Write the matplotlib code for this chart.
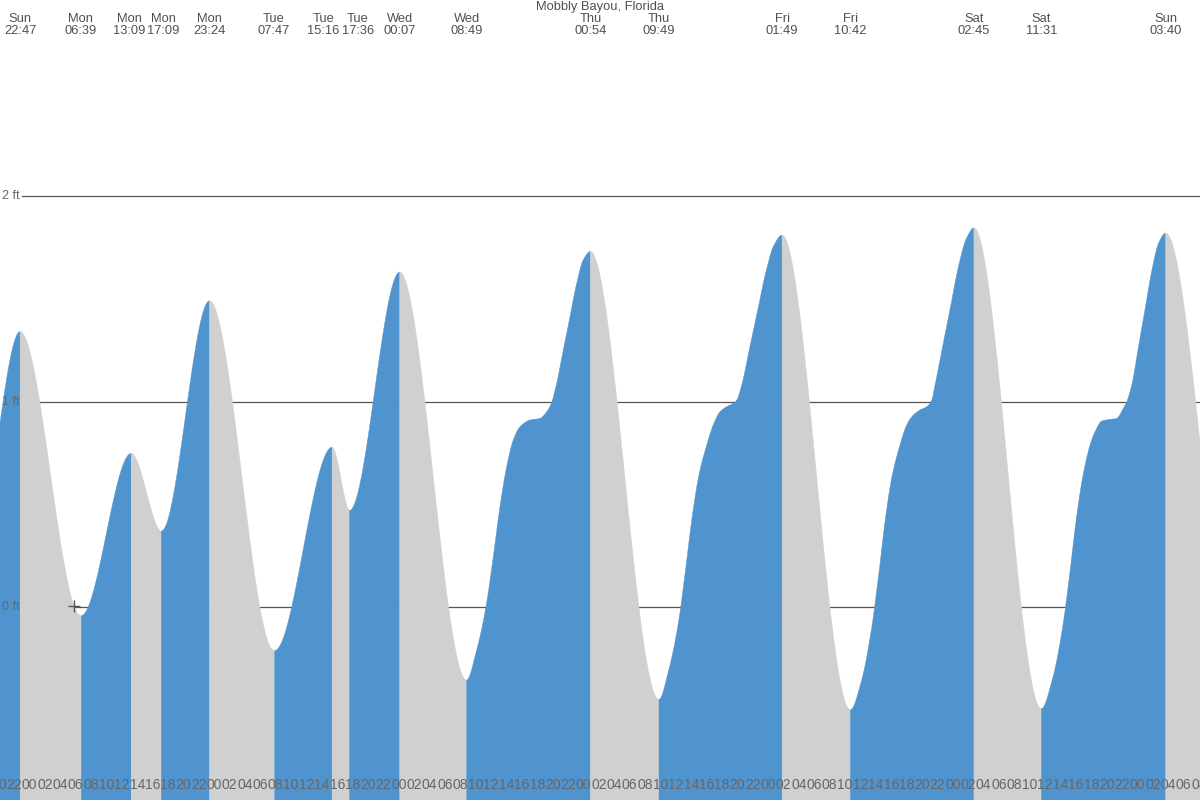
import numpy as np
import matplotlib
matplotlib.use("Agg")
import matplotlib.pyplot as plt

# ---------------- data ----------------
station = "Mobbly Bayou, Florida"

# high / low tide events (labels along the top)
ext_days = ["Sun", "Mon", "Mon", "Mon", "Mon", "Tue", "Tue", "Tue", "Wed", "Wed",
            "Thu", "Thu", "Fri", "Fri", "Sat", "Sat", "Sun"]
ext_times = ["22:47", "06:39", "13:09", "17:09", "23:24", "07:47", "15:16", "17:36",
             "00:07", "08:49", "00:54", "09:49", "01:49", "10:42", "02:45", "11:31", "03:40"]
ext_heights = [1.34, -0.04, 0.75, 0.37, 1.49, -0.21, 0.78, 0.47,
               1.63, -0.355, 1.73, -0.45, 1.81, -0.50, 1.845, -0.495, 1.82]

# extremes just outside the visible window (hours from Mon 00:00, ft)
edge_hours = [-7.0, 157.25]
edge_heights = [0.30, -0.45]

# intermediate readings of the curve on the long rising legs (hours from Mon 00:00, ft)
curve_hours = [58.12, 59.33, 60.28, 61.15, 62.02, 62.88, 63.75, 65.05, 66.35, 67.22,
               67.87, 68.52, 69.38, 70.25, 71.12, 71.97,
               83.08, 84.29, 85.23, 86.11, 86.98, 88.02, 88.87, 89.74, 90.62, 91.47,
               91.92, 92.57, 93.61, 94.66, 95.72, 96.76,
               108.16, 109.37, 110.32, 111.19, 112.06, 113.14, 114.01, 114.87, 115.74,
               116.61, 117.26, 117.69, 118.70, 119.72, 120.74, 121.76,
               132.99, 134.20, 135.15, 136.02, 136.89, 137.84, 138.49, 139.36, 140.44,
               141.31, 142.16, 142.61, 143.26, 144.13, 145.00, 145.88, 146.74]
curve_heights = [-0.209, 0.001, 0.245, 0.488, 0.683, 0.813, 0.877, 0.910, 0.918, 0.950,
                 0.996, 1.089, 1.251, 1.413, 1.575, 1.689,
                 -0.307, -0.088, 0.170, 0.433, 0.637, 0.788, 0.886, 0.950, 0.975, 0.991,
                 1.007, 1.080, 1.263, 1.447, 1.632, 1.761,
                 -0.355, -0.122, 0.141, 0.414, 0.628, 0.788, 0.886, 0.934, 0.959,
                 0.975, 1.007, 1.080, 1.271, 1.464, 1.657, 1.792,
                 -0.345, -0.117, 0.146, 0.418, 0.633, 0.788, 0.853, 0.905, 0.913,
                 0.918, 0.967, 0.999, 1.080, 1.265, 1.452, 1.639, 1.770]

now_hours = 5.78          # current-time marker (Mon 05:47)
grid_levels = [0, 1, 2]   # ft

# ---------------- helpers ----------------
def to_hours(days, times):
    out, off, prev = [], -1, None
    for d, t in zip(days, times):
        if prev is not None and d != prev:
            off += 1
        prev = d
        hh, mm = t.split(":")
        out.append(off * 24 + int(hh) + int(mm) / 60.0)
    return np.array(out)


def pchip(x, y, xq):
    x = np.asarray(x, float); y = np.asarray(y, float)
    h = np.diff(x); delta = np.diff(y) / h
    n = len(x); d = np.zeros(n)
    for k in range(1, n - 1):
        if delta[k - 1] * delta[k] > 0:
            w1 = 2 * h[k] + h[k - 1]; w2 = h[k] + 2 * h[k - 1]
            d[k] = (w1 + w2) / (w1 / delta[k - 1] + w2 / delta[k])
    idx = np.clip(np.searchsorted(x, xq) - 1, 0, n - 2)
    hk = h[idx]; s = (xq - x[idx]) / hk
    h00 = 2 * s**3 - 3 * s**2 + 1; h10 = s**3 - 2 * s**2 + s
    h01 = -2 * s**3 + 3 * s**2; h11 = s**3 - s**2
    return h00 * y[idx] + h10 * hk * d[idx] + h01 * y[idx + 1] + h11 * hk * d[idx + 1]


def spread(pos, width):
    """push neighbouring label centres apart so they do not overlap"""
    pos = list(pos)
    for _ in range(5):
        for i in range(len(pos) - 1):
            gap = pos[i + 1] - pos[i]
            if gap < width:
                shift = (width - gap) / 2
                pos[i] -= shift
                pos[i + 1] += shift
    return pos


ext_hours = to_hours(ext_days, ext_times)
all_h = np.concatenate([ext_hours, edge_hours, curve_hours])
all_v = np.concatenate([ext_heights, edge_heights, curve_heights])
order = np.argsort(all_h)
all_h, all_v = all_h[order], all_v[order]

# ---------------- figure ----------------
plt.rcParams["font.family"] = ["Liberation Sans", "DejaVu Sans"]
BLUE = "#4f94cf"
GREY = "#d0d0d0"
TXT = "#505050"

fig = plt.figure(figsize=(12, 8), dpi=100)
ax = fig.add_axes([0, 0, 1, 1])
x0, x1 = -3.834, 152.13
for s in ax.spines.values():
    s.set_visible(False)
ax.set_yticks([])

# bottom hour ticks (set before the limits so they do not widen the view)
minor = np.arange(-4, 156, 2)
major = minor[minor % 24 == 0]
ax.set_xticks(major)
ax.set_xticks(minor, minor=True)
ax.tick_params(axis="x", which="major", direction="in", length=5.8, width=2.2,
               color="#666666", labelbottom=False)
ax.tick_params(axis="x", which="minor", direction="in", length=5.8, width=0.8,
               color="#777777", labelbottom=False)
ax.set_xlim(x0, x1)
ax.set_ylim(-0.939, 2.954)

# grid lines (behind the water)
for g in grid_levels:
    ax.axhline(g, xmin=22 / 1200, xmax=1, color="#555555", lw=0.9, zorder=1)

# filled tide, blue while rising, grey while falling
bounds = np.concatenate([[x0], ext_hours[(ext_hours > x0) & (ext_hours < x1)], [x1]])
for a, b in zip(bounds[:-1], bounds[1:]):
    tt = np.linspace(a, b, max(int((b - a) * 40), 10))
    vv = pchip(all_h, all_v, tt)
    col = BLUE if vv[-1] > vv[0] else GREY
    ax.fill_between(tt, vv, -3, color=col, lw=0.3, edgecolor=col, zorder=2)

# y labels
for g in grid_levels:
    ax.text(2 / 1200, g, f"{g} ft", transform=ax.get_yaxis_transform(),
            ha="left", va="center", fontsize=9, color="#666666", zorder=5)

# top labels
tr = ax.get_xaxis_transform()
ax.text(0.5, 1 - 7 / 800, station, transform=ax.transAxes, ha="center", va="center",
        fontsize=9.3, color=TXT)
label_w = 34 / 1200 * (x1 - x0)
lab_pos = spread(ext_hours, label_w)
for h, d, t in zip(lab_pos, ext_days, ext_times):
    if x0 <= h <= x1:
        ax.text(h, 1 - 19 / 800, d, transform=tr, ha="center", va="center", fontsize=9.3, color=TXT)
        ax.text(h, 1 - 31 / 800, t, transform=tr, ha="center", va="center", fontsize=9.3, color=TXT)

# hour labels along the bottom
for m in minor:
    ax.text(m, 15 / 800, f"{int(m % 24):02d}", transform=tr, ha="center", va="center",
            fontsize=10, color="#666666", zorder=6, clip_on=False)

# current time marker
ax.plot([now_hours], [pchip(all_h, all_v, np.array([now_hours]))[0]], marker="+",
        ms=9, mew=1.0, color="#555555", zorder=7)

fig.savefig("out.png", dpi=100)
